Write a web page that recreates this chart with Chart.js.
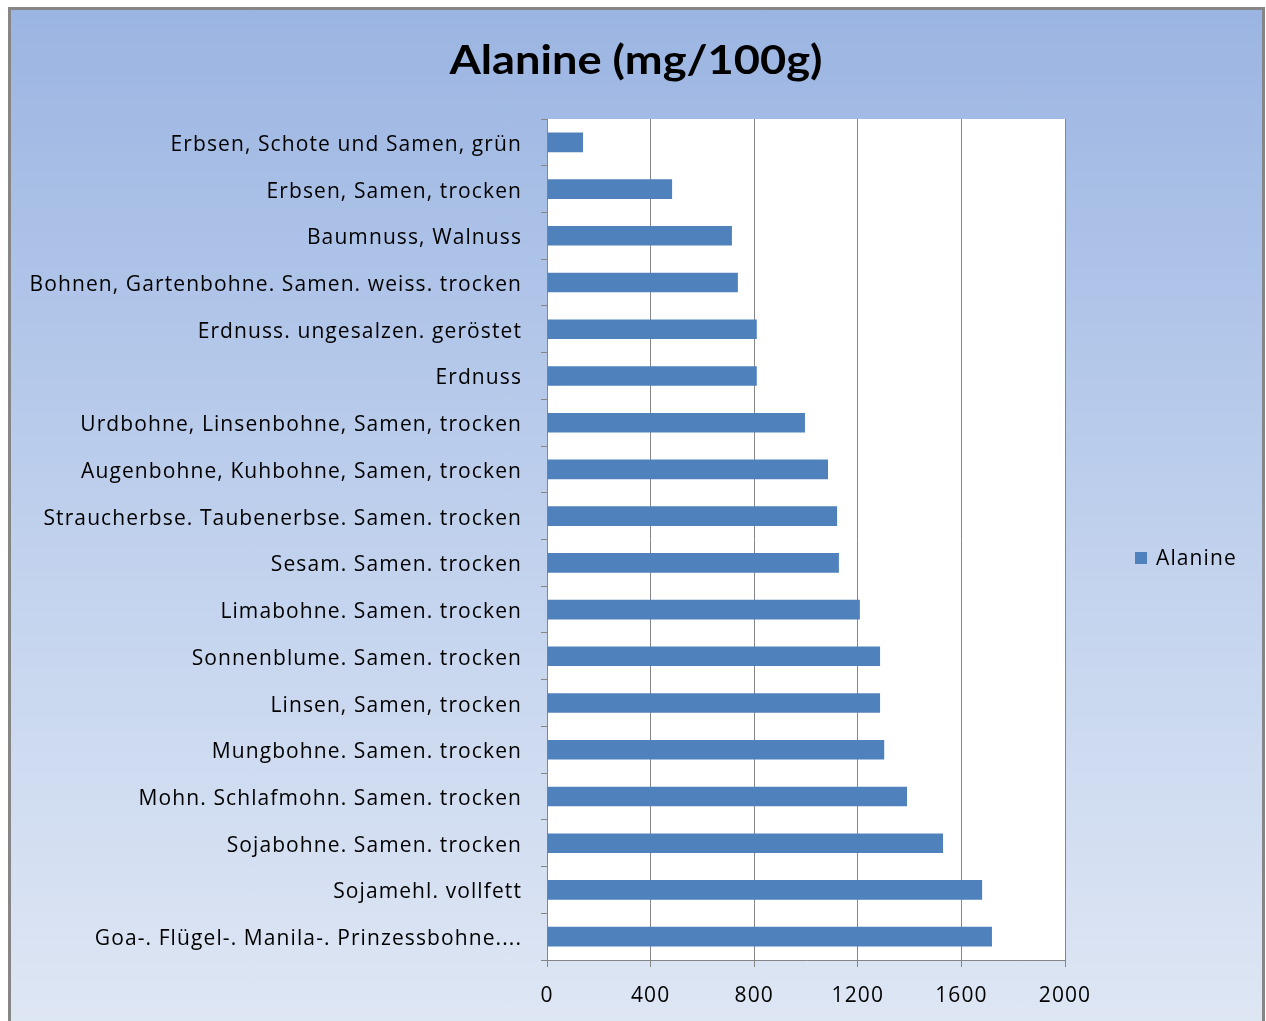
<!DOCTYPE html>
<html>
<head>
<meta charset="utf-8">
<script src="https://cdn.jsdelivr.net/npm/chart.js@4/dist/chart.umd.min.js"></script>
<style>
  html, body { margin: 0; padding: 0; width: 1266px; height: 1021px; overflow: hidden; background: #ffffff; }
  #frame {
    position: absolute; left: 8px; top: 7px; width: 1251px; height: 1030px;
    border: 3px solid #868686;
    background: linear-gradient(to bottom, #9bb5e2 0%, #c3d3ee 55%, #dfe7f4 100%);
  }
  #chart { position: absolute; left: 0; top: 0; }
</style>
</head>
<body>
<div id="frame"></div>
<canvas id="chart" width="1266" height="1021"></canvas>
<script>
const categories = [
  "Erbsen, Schote und Samen, grün",
  "Erbsen, Samen, trocken",
  "Baumnuss, Walnuss",
  "Bohnen, Gartenbohne. Samen. weiss. trocken",
  "Erdnuss. ungesalzen. geröstet",
  "Erdnuss",
  "Urdbohne, Linsenbohne, Samen, trocken",
  "Augenbohne, Kuhbohne, Samen, trocken",
  "Straucherbse. Taubenerbse. Samen. trocken",
  "Sesam. Samen. trocken",
  "Limabohne. Samen. trocken",
  "Sonnenblume. Samen. trocken",
  "Linsen, Samen, trocken",
  "Mungbohne. Samen. trocken",
  "Mohn. Schlafmohn. Samen. trocken",
  "Sojabohne. Samen. trocken",
  "Sojamehl. vollfett",
  "Goa-. Flügel-. Manila-. Prinzessbohne...."
];
const alanine = [139, 483, 714, 737, 810, 810, 996, 1085, 1120, 1127, 1208, 1286, 1286, 1302, 1390, 1529, 1680, 1718];
const xTicks = [0, 400, 800, 1200, 1600, 2000];
const seriesName = "Alanine";
const chartTitle = "Alanine (mg/100g)";

const FONT = "'Open Sans', sans-serif";
const TITLE_FONT = "Lato, sans-serif";
const GRID = "#868686";
const BAR = "#4f81bd";

// White plot area behind the bars; loose letter spacing for axis text
const plotBackground = {
  id: "plotBackground",
  beforeDraw(chart) {
    const a = chart.chartArea;
    const ctx = chart.ctx;
    ctx.save();
    ctx.fillStyle = "#ffffff";
    ctx.fillRect(a.left, a.top, a.right - a.left, a.bottom - a.top);
    ctx.restore();
    ctx.letterSpacing = "1.1px";
  }
};

// Heading centred across the whole frame, slightly widened
const heading = {
  id: "heading",
  afterDraw(chart) {
    const ctx = chart.ctx;
    ctx.save();
    ctx.letterSpacing = "0px";
    ctx.font = "bold 40px " + TITLE_FONT;
    ctx.fillStyle = "#000000";
    ctx.textAlign = "center";
    ctx.textBaseline = "alphabetic";
    ctx.translate(636, 74);
    ctx.scale(1.13, 1);
    ctx.fillText(chartTitle, 0, 0);
    ctx.restore();
  }
};

// Legend entry drawn to the right of the plot area
const sideLegend = {
  id: "sideLegend",
  afterDraw(chart) {
    const ctx = chart.ctx;
    const ds = chart.data.datasets[0];
    ctx.save();
    ctx.fillStyle = ds.backgroundColor;
    ctx.fillRect(1135, 552, 12, 12);
    ctx.fillStyle = "#000000";
    ctx.letterSpacing = "1.1px";
    ctx.font = "21px " + FONT;
    ctx.textBaseline = "middle";
    ctx.textAlign = "left";
    ctx.fillText(ds.label, 1156, 559);
    ctx.restore();
  }
};

new Chart(document.getElementById("chart"), {
  type: "bar",
  data: {
    labels: categories,
    datasets: [{
      label: seriesName,
      data: alanine,
      backgroundColor: BAR,
      borderWidth: 0,
      categoryPercentage: 0.42,
      barPercentage: 1.0
    }]
  },
  options: {
    indexAxis: "y",
    responsive: false,
    animation: false,
    devicePixelRatio: 1,
    layout: { padding: { left: 0, right: 201, top: 119, bottom: 0 } },
    plugins: {
      legend: { display: false },
      tooltip: { enabled: false },
      title: { display: false }
    },
    scales: {
      x: {
        min: 0, max: 2000,
        afterBuildTicks(scale) { scale.ticks = xTicks.map(v => ({ value: v })); },
        afterFit(scale) { scale.height = 61; },
        grid: { color: GRID, lineWidth: 1, drawTicks: true, tickLength: 7, tickColor: GRID },
        border: { color: GRID, width: 1 },
        ticks: {
          color: "#000000", font: { family: FONT, size: 21 }, padding: 16, maxRotation: 0,
          callback: (v) => String(v)
        }
      },
      y: {
        afterFit(scale) { scale.width = 547; },
        grid: { offset: true, drawOnChartArea: false, drawTicks: true, tickLength: 6, tickColor: GRID },
        border: { color: GRID, width: 1 },
        ticks: { color: "#000000", font: { family: FONT, size: 21 }, padding: 19, labelOffset: 2.5, autoSkip: false }
      }
    }
  },
  plugins: [plotBackground, heading, sideLegend]
});
</script>
</body>
</html>
